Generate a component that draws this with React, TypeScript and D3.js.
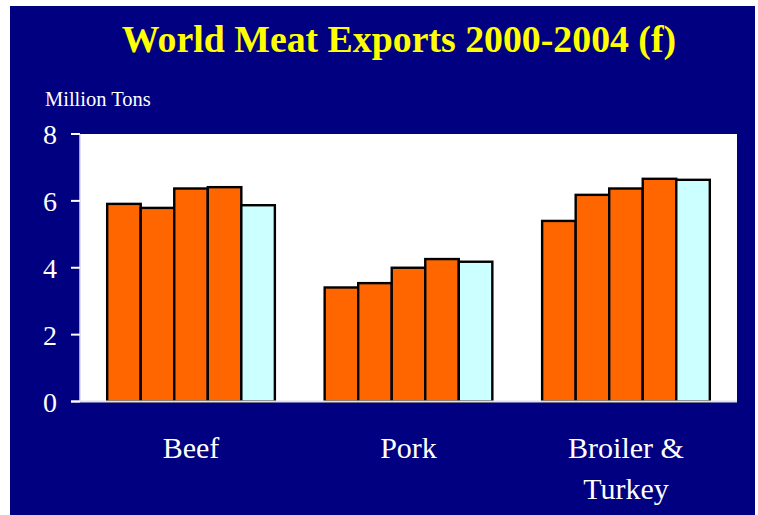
import React from "react";
import * as d3 from "d3";

const categories = ["Beef", "Pork", "Broiler & Turkey"];
const categoryLines = [["Beef"], ["Pork"], ["Broiler &", "Turkey"]];
const years = ["2000", "2001", "2002", "2003", "2004 (f)"];
const beef = [5.91, 5.79, 6.37, 6.41, 5.87];
const pork = [3.41, 3.54, 4.0, 4.26, 4.18];
const broilerTurkey = [5.4, 6.18, 6.37, 6.66, 6.63];
const seriesByCategory = [beef, pork, broilerTurkey];
const yTicks = [0, 2, 4, 6, 8];
const title = "World Meat Exports 2000-2004 (f)";
const yAxisTitle = "Million Tons";

const W = 758;
const H = 515;
const NAVY = "#000080";
const ORANGE = "#FF6600";
const CYAN = "#CCFFFF";
const FONT = "'Liberation Serif', 'Times New Roman', serif";

export default function App() {
  const plotLeft = 80;
  const plotRight = 737;
  const plotTop = 134;
  const plotBottom = 401.5;

  const x0 = d3
    .scaleBand<string>()
    .domain(categories)
    .range([plotLeft, plotRight])
    .paddingInner(0.229)
    .paddingOuter(0.125);
  const x1 = d3
    .scaleBand<string>()
    .domain(years)
    .range([0, x0.bandwidth()])
    .padding(0);
  const y = d3.scaleLinear().domain([0, 8]).range([plotBottom, plotTop]);
  const color = d3
    .scaleOrdinal<string, string>()
    .domain(years)
    .range([ORANGE, ORANGE, ORANGE, ORANGE, CYAN]);

  return (
    <svg
      width={W}
      height={H}
      style={{ position: "absolute", left: 0, top: 0, display: "block" }}
      fontFamily={FONT}
    >
      <rect x={0} y={0} width={W} height={H} fill="#ffffff" />
      <rect x={10} y={6} width={745} height={509} fill={NAVY} />
      <text
        x={399}
        y={52}
        textAnchor="middle"
        fill="#FFFF00"
        fontWeight="bold"
        fontSize={37.8}
      >
        {title}
      </text>
      <text x={45} y={106} fill="#ffffff" fontSize={20.5}>
        {yAxisTitle}
      </text>
      <rect
        x={plotLeft}
        y={plotTop}
        width={plotRight - plotLeft}
        height={plotBottom - plotTop}
        fill="#ffffff"
      />
      {categories.map((c, ci) => (
        <g key={c} transform={`translate(${x0(c)},0)`}>
          {years.map((yr, yi) => {
            const v = seriesByCategory[ci][yi];
            return (
              <rect
                key={yr}
                x={x1(yr)}
                y={y(v)}
                width={x1.bandwidth()}
                height={plotBottom - y(v)}
                fill={color(yr)}
                stroke="#000000"
                strokeWidth={2.4}
              />
            );
          })}
        </g>
      ))}
      <line
        x1={plotLeft}
        x2={plotLeft}
        y1={plotTop}
        y2={plotBottom}
        stroke="#d8d8e8"
        strokeWidth={1.5}
      />
      <line
        x1={71}
        x2={plotRight}
        y1={plotBottom}
        y2={plotBottom}
        stroke="#e0e0ea"
        strokeWidth={2}
      />
      {yTicks.map((t) => (
        <g key={t}>
          <line
            x1={71}
            x2={plotLeft}
            y1={y(t)}
            y2={y(t)}
            stroke="#ffffff"
            strokeWidth={2}
          />
          <text
            x={57}
            y={y(t)}
            dy="0.36em"
            textAnchor="end"
            fill="#ffffff"
            fontSize={28}
          >
            {t}
          </text>
        </g>
      ))}
      {categories.map((c, ci) => (
        <text
          key={c}
          x={(x0(c) as number) + x0.bandwidth() / 2}
          y={458}
          textAnchor="middle"
          fill="#ffffff"
          fontSize={30}
        >
          {categoryLines[ci].map((line, li) => (
            <tspan
              key={li}
              x={(x0(c) as number) + x0.bandwidth() / 2}
              dy={li === 0 ? 0 : 41}
            >
              {line}
            </tspan>
          ))}
        </text>
      ))}
    </svg>
  );
}
